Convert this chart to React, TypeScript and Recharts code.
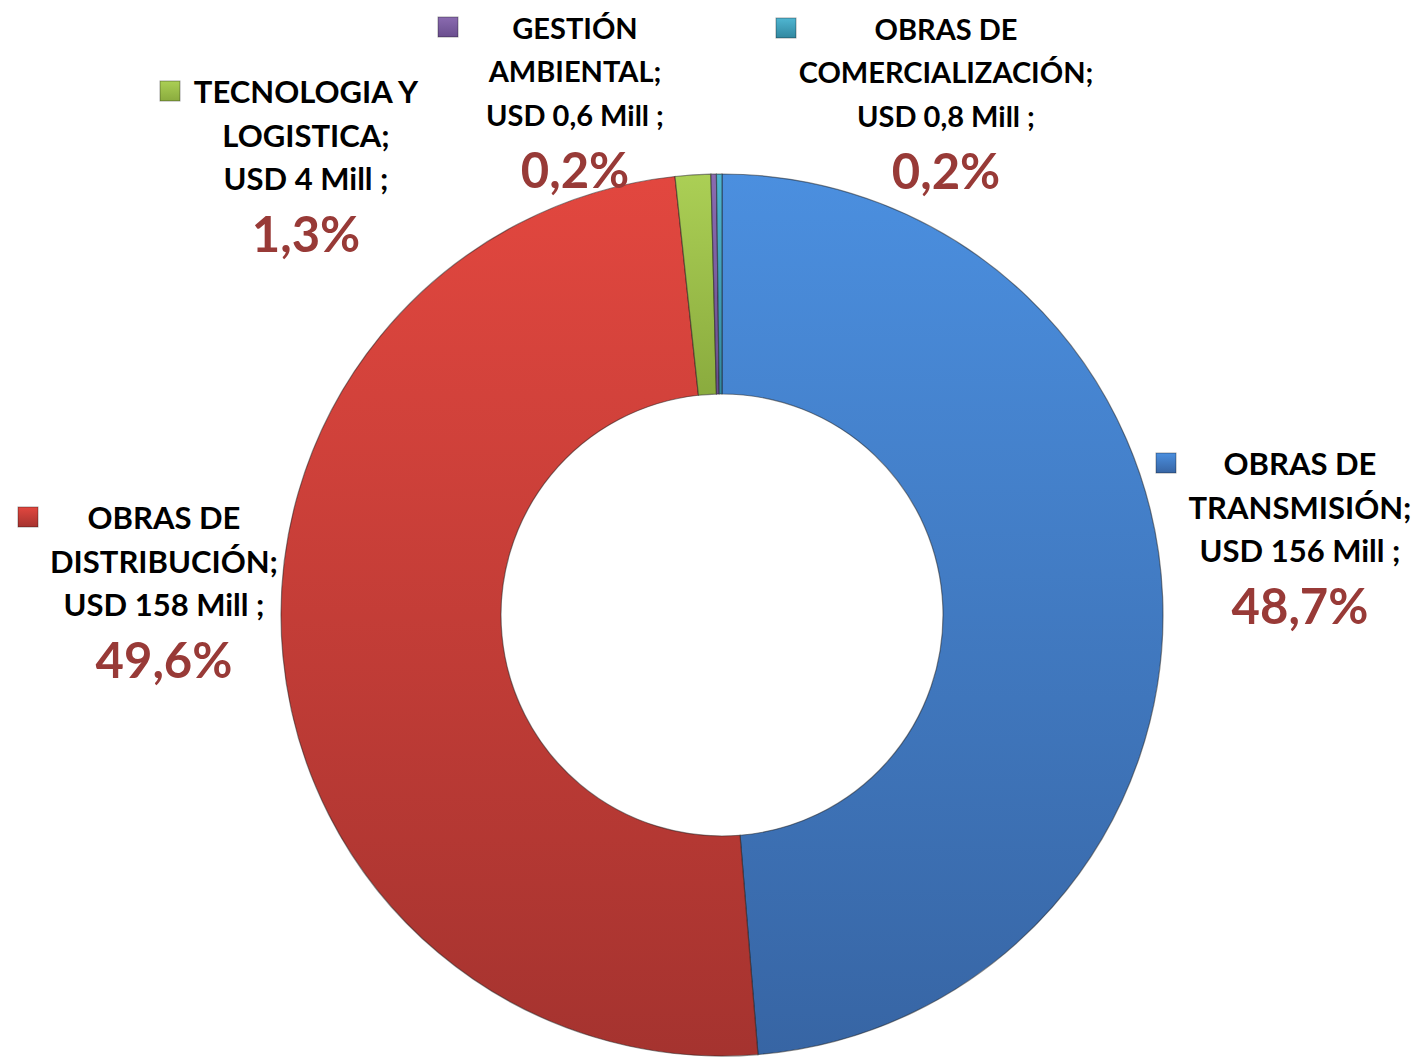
import { PieChart, Pie, Cell } from 'recharts';

// Ejecución por tipo de obra (valores en % y USD millones)
const categories = ['TRANSMISION', 'DISTRIBUCION', 'TECNOLOGIA', 'GESTION', 'COMERCIALIZACION'];
const nameLines = [
  ['OBRAS DE', 'TRANSMISIÓN;'],
  ['OBRAS DE', 'DISTRIBUCIÓN;'],
  ['TECNOLOGIA Y', 'LOGISTICA;'],
  ['GESTIÓN', 'AMBIENTAL;'],
  ['OBRAS DE', 'COMERCIALIZACIÓN;'],
];
const usdMill = [156, 158, 4, 0.6, 0.8];
const percents = [48.7, 49.6, 1.3, 0.2, 0.2];

const chartData = categories.map((c, i) => ({ name: c, value: percents[i] }));

// layout: label block center offset from pie center, and key square offset
const labelPos = [
  { dx: 578, dy: -152, kx: -144 },
  { dx: -558, dy: -98, kx: -146 },
  { dx: -416, dy: -524, kx: -146 },
  { dx: -147, dy: -588, kx: -137 },
  { dx: 224, dy: -587, kx: -170 },
];

const colors = [
  ['#4b8fdf', '#3765a4'],
  ['#e2473f', '#a5332f'],
  ['#abcf55', '#8aab3e'],
  ['#8a6bb0', '#6a4e8e'],
  ['#4fb6d2', '#31879f'],
];

const fmt = (v: number) => String(v).replace('.', ',');

const FONT = 'Lato, "Open Sans", sans-serif';

function renderLabel(props: any) {
  const { cx, cy, index } = props;
  const p = labelPos[index];
  const x = cx + p.dx;
  const y = cy + p.dy;
  const lines = [...nameLines[index], `USD ${fmt(usdMill[index])} Mill ;`];
  return (
    <g key={`lbl-${index}`}>
      <rect
        x={x + p.kx}
        y={y - 10}
        width={20}
        height={20}
        fill={`url(#grad-${index})`}
        stroke="rgba(0,0,0,0.35)"
        strokeWidth={1}
      />
      {lines.map((t, j) => (
        <text
          key={j}
          x={x}
          y={y + j * 43.5}
          textAnchor="middle"
          dominantBaseline="central"
          fontFamily={FONT}
          fontWeight={700}
          fontSize={index >= 3 ? 29 : 31}
          fill="#000"
        >
          {t}
        </text>
      ))}
      <text
        x={x}
        y={y + 142}
        textAnchor="middle"
        dominantBaseline="central"
        fontFamily={FONT}
        fontWeight={700}
        fontSize={49}
        fill="#983a37"
      >
        {fmt(percents[index])}%
      </text>
    </g>
  );
}

export default function App() {
  return (
    <div style={{ width: 1417, height: 1057, background: '#fff' }}>
      <style>{'body{margin:0;}'}</style>
      <PieChart width={1417} height={1057} margin={{ top: 0, right: 0, bottom: 0, left: 0 }}>
        <defs>
          {colors.map((c, i) => (
            <linearGradient key={i} id={`grad-${i}`} x1="0" y1="0" x2="0" y2="1">
              <stop offset="0%" stopColor={c[0]} />
              <stop offset="100%" stopColor={c[1]} />
            </linearGradient>
          ))}
        </defs>
        <Pie
          data={chartData}
          dataKey="value"
          nameKey="name"
          cx={722}
          cy={615}
          innerRadius={221}
          outerRadius={441}
          startAngle={90}
          endAngle={-270}
          stroke="rgba(30,30,30,0.5)"
          strokeWidth={1.2}
          label={renderLabel}
          labelLine={false}
          isAnimationActive={false}
        >
          {chartData.map((d, i) => (
            <Cell key={d.name} fill={`url(#grad-${i})`} />
          ))}
        </Pie>
      </PieChart>
    </div>
  );
}
